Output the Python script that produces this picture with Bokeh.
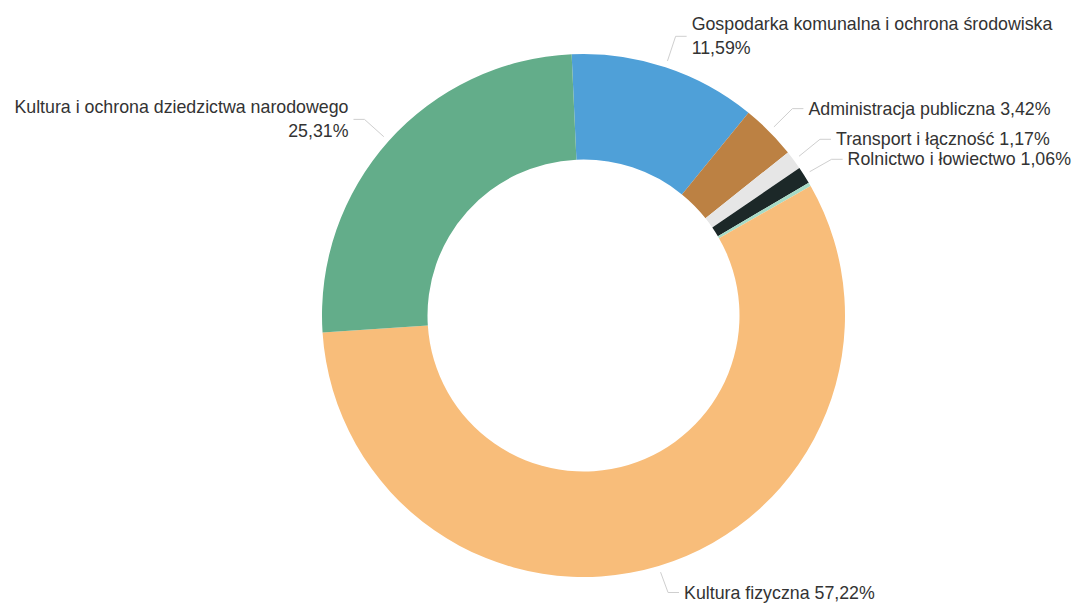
import math
from bokeh.plotting import figure
from bokeh.models import Range1d, ColumnDataSource
from bokeh.core.properties import value
from bokeh.embed import file_html
from bokeh.resources import INLINE

# ---- data (clockwise order, starting just left of 12 o'clock) ----
categories = [
    "Gospodarka komunalna i ochrona środowiska",
    "Administracja publiczna",
    "Transport i łączność",
    "Rolnictwo i łowiectwo",
    "Pozostałe",
    "Kultura fizyczna",
    "Kultura i ochrona dziedzictwa narodowego",
]
shares = [11.59, 3.42, 1.17, 1.06, 0.23, 57.22, 25.31]
labels = [
    "Gospodarka komunalna i ochrona środowiska\n11,59%",
    "Administracja publiczna 3,42%",
    "Transport i łączność 1,17%",
    "Rolnictwo i łowiectwo 1,06%",
    "",
    "Kultura fizyczna 57,22%",
    "Kultura i ochrona dziedzictwa narodowego\n25,31%",
]
colors = ["#4fa0d8", "#bc8143", "#e6e6e6", "#1c2828", "#a6dbc6", "#f8bd7a", "#63ad8a"]

# ---- layout ----
W, H = 1075, 604
cx, cy = 583.0, -315.0
R_OUT, R_IN = 261.5, 156.0
R1, R2, HLEN, GAP = 268.0, 294.0, 11.0, 5.0
MIN_SEP = 20.0
BOTTOM_PAD = 12.0
START = -2.6  # degrees clockwise from top

total = sum(shares)
t_start, t_end = [], []
acc = 0.0
for v in shares:
    s = START + 360.0 * acc / total
    acc += v
    e = START + 360.0 * acc / total
    t_start.append(s)
    t_end.append(e)

src = ColumnDataSource(dict(
    x=[cx] * len(shares), y=[cy] * len(shares),
    sa=[math.radians(90 - s) for s in t_start],
    ea=[math.radians(90 - e) for e in t_end],
    color=colors, name=categories,
))

p = figure(width=W, height=H, output_backend="svg", toolbar_location=None,
           x_range=Range1d(0, W), y_range=Range1d(-H, 0),
           min_border=0, background_fill_color="white", border_fill_color="white")
p.axis.visible = False
p.grid.visible = False
p.outline_line_color = None

p.annular_wedge(x="x", y="y", inner_radius=R_IN, outer_radius=R_OUT,
                start_angle="sa", end_angle="ea", direction="clock",
                fill_color="color", line_color=None, source=src)

# leader-line anchor points
items = []
for s, e, lab in zip(t_start, t_end, labels):
    if not lab:
        continue
    m = math.radians((s + e) / 2)
    sn, cs = math.sin(m), math.cos(m)
    items.append(dict(lab=lab, right=sn >= 0,
                      x1=cx + R1 * sn, y1=cy + R1 * cs,
                      x2=cx + R2 * sn, y2=cy + R2 * cs))

# simple overlap avoidance for neighbouring single-line labels on one side
for side in (True, False):
    grp = sorted([it for it in items if it["right"] == side and "\n" not in it["lab"]],
                 key=lambda it: -it["y2"])
    for a, b in zip(grp, grp[1:]):
        gap = a["y2"] - b["y2"]
        if gap < MIN_SEP:
            d = (MIN_SEP - gap) / 2
            a["y2"] += d
            b["y2"] -= d

lx, ly, tx, ty, tt = [], [], [], [], []
rx, ry, rt = [], [], []
for it in items:
    yt = max(it["y2"], -H + BOTTOM_PAD)
    if it["right"]:
        x3 = it["x2"] + HLEN
        tx.append(x3 + GAP); ty.append(yt); tt.append(it["lab"])
    else:
        x3 = it["x2"] - HLEN
        rx.append(x3 - GAP); ry.append(yt); rt.append(it["lab"])
    lx.append([it["x1"], it["x2"], x3]); ly.append([it["y1"], yt, yt])

p.multi_line(xs=lx, ys=ly, line_color="#cfcfcf", line_width=1)

font = value("Liberation Sans")
p.text(x=tx, y=ty, text=tt, text_font=font, text_font_size="17.8px",
       text_color="#333333", text_align="left", text_baseline="middle",
       text_line_height=1.2)
p.text(x=rx, y=ry, text=rt, text_font=font, text_font_size="17.8px",
       text_color="#333333", text_align="right", text_baseline="middle",
       text_line_height=1.2)

open("out.html", "w").write(file_html(p, INLINE))
